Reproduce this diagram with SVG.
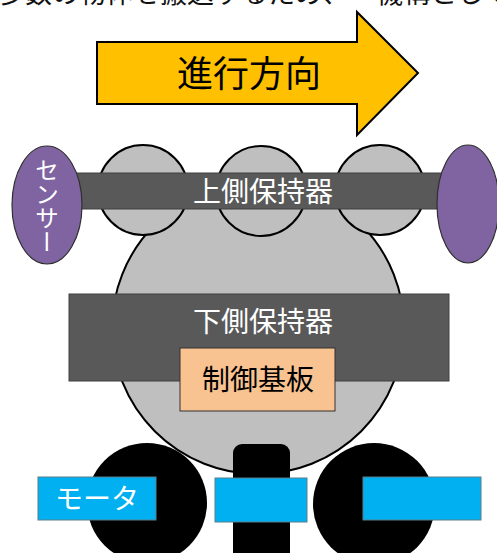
<svg xmlns="http://www.w3.org/2000/svg" width="497" height="553" viewBox="0 0 497 553">
  <style>
    .jp { font-family: "Noto Sans CJK JP", "Noto Sans", sans-serif; }
    .body { fill: #BFBFBF; stroke: #000; stroke-width: 2; }
    .holder { fill: #595959; stroke: #404040; stroke-width: 1; }
    .sensor { fill: #8064A2; stroke: #2F2F2F; stroke-width: 1.2; }
    .wheel { fill: #000; }
    .motor { fill: #00B0F0; stroke: #5A7F8C; stroke-width: 1; }
    .label-w { fill: #fff; font-size: 28px; text-anchor: middle; }
    .label-k { fill: #000; font-size: 28px; text-anchor: middle; }
  </style>
  <rect width="497" height="553" fill="#fff"/>

  <!-- caption line, running off the top edge -->
  <text class="jp" x="-2" y="3" font-size="27" fill="#111">多数の物体を搬送するため、一機構として</text>

  <!-- direction arrow -->
  <g id="direction">
    <polygon points="97,42 357,42 357,12 418,73 357,135 357,104 97,104" fill="#FFC000" stroke="#000" stroke-width="2"/>
    <text class="jp" x="249" y="87" font-size="36" text-anchor="middle" fill="#000">進行方向</text>
  </g>

  <!-- main body -->
  <g id="body">
    <circle class="body" cx="258" cy="328" r="146"/>
  </g>

  <!-- upper rollers -->
  <g id="roller-1"><circle class="body" cx="143" cy="190" r="45"/></g>
  <g id="roller-2"><circle class="body" cx="261" cy="191" r="45"/></g>
  <g id="roller-3"><circle class="body" cx="380" cy="190" r="45"/></g>

  <!-- upper holder -->
  <g id="upper-holder">
    <rect class="holder" x="60" y="173" width="390" height="36"/>
    <text class="jp label-w" x="263" y="202">上側保持器</text>
  </g>

  <!-- sensors -->
  <g id="sensor-left">
    <ellipse class="sensor" cx="47" cy="205" rx="35" ry="59"/>
    <text class="jp" x="47" y="158" font-size="24" fill="#fff" style="writing-mode: vertical-rl; text-orientation: upright;">センサー</text>
  </g>
  <g id="sensor-right">
    <ellipse class="sensor" cx="468" cy="204" rx="31" ry="59"/>
  </g>

  <!-- lower holder -->
  <g id="lower-holder">
    <rect class="holder" x="69" y="294" width="380" height="87"/>
    <text class="jp label-w" x="263" y="332">下側保持器</text>
  </g>

  <!-- control board -->
  <g id="control-board">
    <rect x="180" y="348" width="155" height="63" fill="#F8C291" stroke="#333" stroke-width="1"/>
    <text class="jp label-k" x="258" y="390">制御基板</text>
  </g>

  <!-- wheels and caster -->
  <g id="wheel-left"><circle class="wheel" cx="147" cy="503" r="60"/></g>
  <g id="wheel-right"><circle class="wheel" cx="374" cy="504" r="61"/></g>
  <g id="caster"><rect class="wheel" x="233" y="444" width="57" height="125" rx="9"/></g>

  <!-- motors -->
  <g id="motor-left">
    <rect class="motor" x="38" y="477" width="118" height="43"/>
    <text class="jp label-w" x="97" y="509">モータ</text>
  </g>
  <g id="motor-center">
    <rect class="motor" x="215" y="478" width="92" height="44"/>
  </g>
  <g id="motor-right">
    <rect class="motor" x="363" y="477" width="118" height="43"/>
  </g>

  <g id="connectors"/>
</svg>
